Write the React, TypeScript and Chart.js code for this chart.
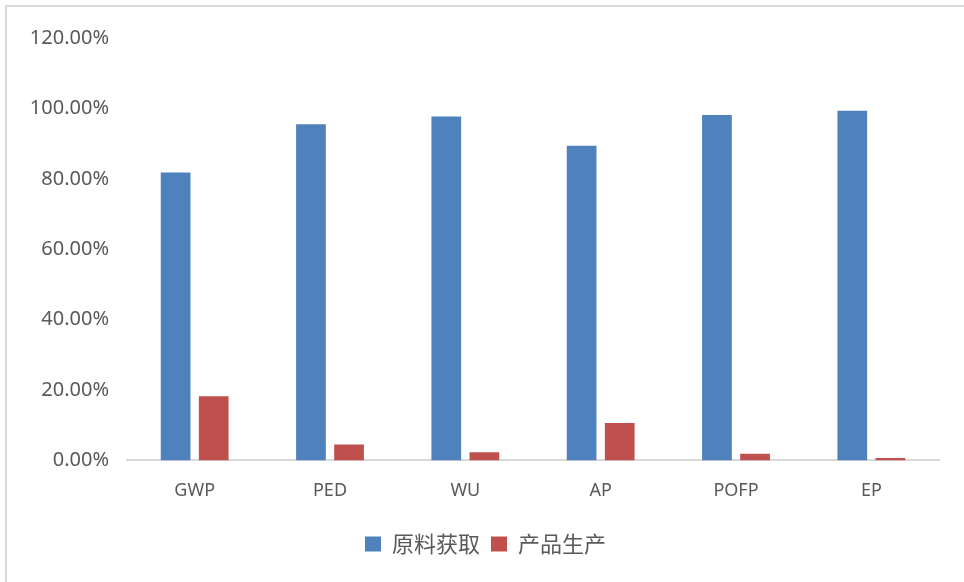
import React, { useEffect, useRef } from "react";
import { Chart, registerables } from "chart.js";

Chart.register(...registerables);

const categories = ["GWP", "PED", "WU", "AP", "POFP", "EP"];
const rawMaterial = [81.8, 95.5, 97.7, 89.4, 98.1, 99.3];
const production = [18.2, 4.5, 2.3, 10.6, 1.9, 0.7];
const seriesNames = ["原料获取", "产品生产"];

export default function App() {
  const ref = useRef<HTMLCanvasElement | null>(null);

  useEffect(() => {
    document.body.style.margin = "0";
    if (!ref.current) return;
    const chart = new Chart(ref.current, {
      type: "bar",
      data: {
        labels: categories,
        datasets: [
          {
            label: seriesNames[0],
            data: rawMaterial,
            backgroundColor: "#4f81bd",
            categoryPercentage: 0.563,
            barPercentage: 0.78,
          },
          {
            label: seriesNames[1],
            data: production,
            backgroundColor: "#c0504d",
            categoryPercentage: 0.563,
            barPercentage: 0.78,
          },
        ],
      },
      options: {
        animation: false,
        responsive: false,
        maintainAspectRatio: false,
        layout: { padding: { top: 38, right: 9, bottom: 17, left: 16 } },
        plugins: {
          tooltip: { enabled: false },
          legend: {
            position: "bottom",
            labels: {
              boxWidth: 16,
              boxHeight: 15,
              padding: 11,
              color: "#595959",
              font: { family: "'Noto Sans CJK SC'", size: 22 },
            },
          },
        },
        scales: {
          x: {
            grid: { display: false, drawTicks: false },
            border: { display: true, color: "#d9d9d9", width: 2 },
            ticks: {
              color: "#595959",
              padding: 20,
              font: { family: "'Noto Sans'", size: 18 },
            },
          },
          y: {
            min: 0,
            max: 120,
            grid: { display: false, drawTicks: false },
            border: { display: false },
            afterFit: (scale: any) => {
              scale.width = 111;
            },
            ticks: {
              stepSize: 20,
              color: "#595959",
              padding: 18,
              font: { family: "'Noto Sans'", size: 20 },
              callback: (v: any) => Number(v).toFixed(2) + "%",
            },
          },
          yRight: {
            type: "linear",
            position: "right",
            display: true,
            grid: { display: false, drawTicks: false },
            border: { display: false },
            ticks: { display: false },
            afterFit: (scale: any) => {
              scale.width = 16;
            },
          },
        },
      },
    });
    return () => chart.destroy();
  }, []);

  return (
    <div style={{ position: "relative", width: 964, height: 582, overflow: "hidden", background: "#fff" }}>
      <canvas ref={ref} width={964} height={582} style={{ position: "absolute", left: 0, top: 0 }} />
      <div
        style={{
          position: "absolute",
          left: 5,
          top: 5,
          width: 1000,
          height: 1000,
          borderLeft: "2px solid #d9d9d9",
          borderTop: "2px solid #d9d9d9",
          pointerEvents: "none",
        }}
      />
    </div>
  );
}
